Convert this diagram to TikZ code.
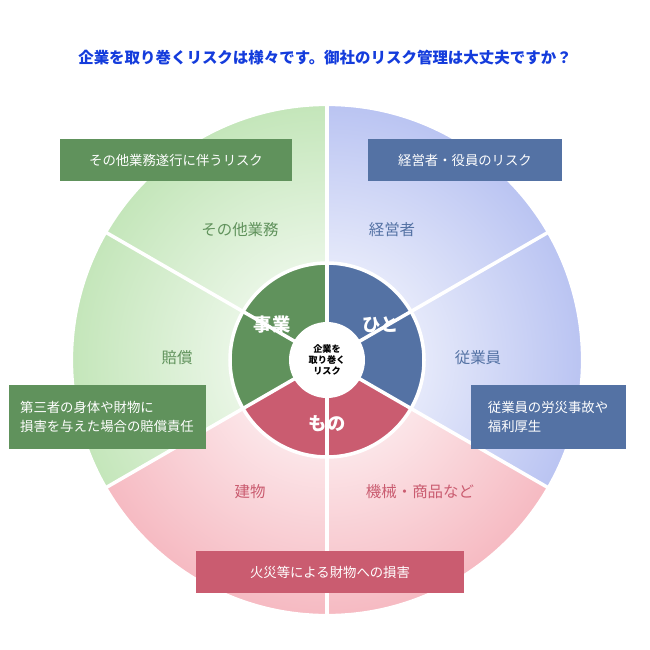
\documentclass[tikz,border=0pt]{standalone}
\usepackage{fontspec}
\setmainfont{Noto Sans CJK JP}
\usetikzlibrary{positioning}
\definecolor{gdark}{RGB}{96,146,92}
\definecolor{bdark}{RGB}{84,114,164}
\definecolor{rdark}{RGB}{202,92,112}
\definecolor{glight}{RGB}{196,230,186}
\definecolor{blight}{RGB}{186,196,242}
\definecolor{rlight}{RGB}{246,186,194}
\definecolor{titleblue}{RGB}{20,60,220}

\begin{document}
\begin{tikzpicture}[x=0.025cm, y=-0.025cm,
  riskbox/.style={text=white, font=\fontsize{9.5}{13}\selectfont, inner xsep=8pt, inner ysep=5pt, align=left},
  sectorlabel/.style={font=\fontsize{11}{13}\selectfont},
  corelabel/.style={text=white, font=\fontsize{13}{15}\selectfont\bfseries}]
\useasboundingbox (0,0) rectangle (650,650);
\coordinate (c) at (327,360);
% outer ring, shaded from the centre (y axis points down, so angles run clockwise)
\foreach \a/\col in {150/glight,210/glight,30/rlight,90/rlight,270/blight,330/blight}{
  \begin{scope}
    \clip (c) -- ++(\a:255) arc[start angle=\a, end angle=\a+60, radius=255] -- cycle;
    \shade[inner color=white, outer color=\col] (c) circle[radius=255];
  \end{scope}
}
% inner ring
\fill[gdark] (c) -- ++(150:97) arc[start angle=150, end angle=270, radius=97] -- cycle;
\fill[rdark] (c) -- ++(30:97) arc[start angle=30, end angle=150, radius=97] -- cycle;
\fill[bdark] (c) -- ++(270:97) arc[start angle=270, end angle=390, radius=97] -- cycle;
% white gaps
\foreach \a in {30,90,150,210,270,330}
  \draw[white, line width=2.5pt] (c) -- ++(\a:258);
\draw[white, line width=2.5pt] (c) circle[radius=97];
\draw[white, line width=3pt] (c) circle[radius=256];
\fill[white] (c) circle[radius=38];

\node[text=titleblue, font=\fontsize{11}{13}\selectfont\bfseries] (title) at (325,58)
  {企業を取り巻くリスクは様々です。御社のリスク管理は大丈夫ですか？};

\node[corelabel] (jigyo) at (272,325) {事業};
\node[corelabel] (hito) at (381,325) {ひと};
\node[corelabel] (mono) at (327,424) {もの};
\node[font=\fontsize{6.5}{8}\selectfont\bfseries, align=center] (core) at (c) {企業を\\取り巻く\\リスク};

\node[sectorlabel, text=gdark] (sonota) at (240,230) {その他業務};
\node[sectorlabel, text=bdark] (keiei) at (392,230) {経営者};
\node[sectorlabel, text=gdark] (baisho) at (177,358) {賠償};
\node[sectorlabel, text=bdark] (jugyo) at (478,358) {従業員};
\node[sectorlabel, text=rdark] (tatemono) at (250,492) {建物};
\node[sectorlabel, text=rdark] (kikai) at (420,492) {機械・商品など};

\node[riskbox, fill=gdark, minimum width=232*0.025cm, minimum height=42*0.025cm] (b1) at (176,160) {その他業務遂行に伴うリスク};
\node[riskbox, fill=bdark, minimum width=194*0.025cm, minimum height=42*0.025cm] (b2) at (465,160) {経営者・役員のリスク};
\node[riskbox, fill=gdark, minimum width=197*0.025cm, minimum height=64*0.025cm] (b3) at (107,417) {第三者の身体や財物に\\損害を与えた場合の賠償責任};
\node[riskbox, fill=bdark, minimum width=155*0.025cm, minimum height=64*0.025cm] (b4) at (548,417) {従業員の労災事故や\\福利厚生};
\node[riskbox, fill=rdark, minimum width=268*0.025cm, minimum height=42*0.025cm] (b5) at (330,572) {火災等による財物への損害};
\end{tikzpicture}
\end{document}
